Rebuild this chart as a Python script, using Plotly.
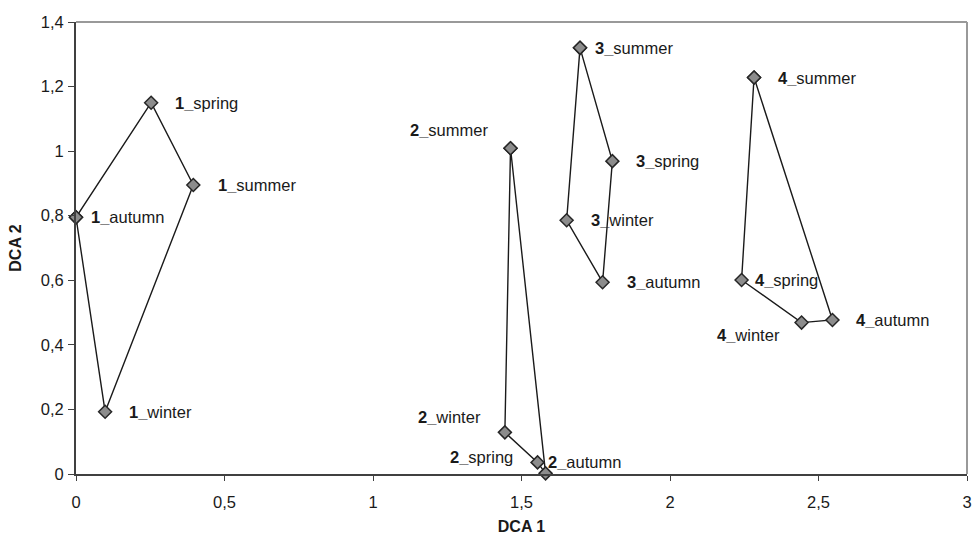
import plotly.graph_objects as go

# Data: DCA scores per site (1-4) and season
groups = ["1", "2", "3", "4"]
g1_seasons = ["autumn", "spring", "summer", "winter"]
g1_x = [0.0, 0.253, 0.395, 0.098]
g1_y = [0.795, 1.15, 0.895, 0.193]

g2_seasons = ["summer", "winter", "spring", "autumn"]
g2_x = [1.463, 1.444, 1.554, 1.581]
g2_y = [1.009, 0.129, 0.036, 0.002]

g3_seasons = ["summer", "spring", "autumn", "winter"]
g3_x = [1.697, 1.806, 1.773, 1.652]
g3_y = [1.32, 0.969, 0.594, 0.786]

g4_seasons = ["summer", "spring", "winter", "autumn"]
g4_x = [2.283, 2.241, 2.443, 2.547]
g4_y = [1.228, 0.601, 0.469, 0.477]

x_ticks = [0, 0.5, 1, 1.5, 2, 2.5, 3]
y_ticks = [0, 0.2, 0.4, 0.6, 0.8, 1.0, 1.2, 1.4]

# label offsets (pixel shifts, anchor)
label_pos = {
    ("1", "autumn"): (13, 0, "left"),
    ("1", "spring"): (22, 0, "left"),
    ("1", "summer"): (23, 0, "left"),
    ("1", "winter"): (22, 0, "left"),
    ("2", "summer"): (-21, 18, "right"),
    ("2", "winter"): (-22, 15, "right"),
    ("2", "spring"): (-23, 5, "right"),
    ("2", "autumn"): (0, 11, "left"),
    ("3", "summer"): (13, 0, "left"),
    ("3", "spring"): (22, 0, "left"),
    ("3", "winter"): (22, 0, "left"),
    ("3", "autumn"): (22, 0, "left"),
    ("4", "summer"): (22, 0, "left"),
    ("4", "spring"): (11, 0, "left"),
    ("4", "winter"): (-20, -12, "right"),
    ("4", "autumn"): (22, 0, "left"),
}

FONT = "Liberation Sans, Arial, sans-serif"
fig = go.Figure()
annotations = []
for g, seasons, xs, ys in [("1", g1_seasons, g1_x, g1_y), ("2", g2_seasons, g2_x, g2_y),
                           ("3", g3_seasons, g3_x, g3_y), ("4", g4_seasons, g4_x, g4_y)]:
    fig.add_trace(go.Scatter(
        x=xs + [xs[0]], y=ys + [ys[0]], mode="lines+markers",
        line=dict(color="#1a1a1a", width=1.4),
        marker=dict(symbol="diamond", size=10, color="#8c8c8c",
                    line=dict(color="#262626", width=1.5)),
        showlegend=False, hoverinfo="skip", cliponaxis=False))
    for s, x, y in zip(seasons, xs, ys):
        dx, dy, anc = label_pos[(g, s)]
        annotations.append(dict(
            x=x, y=y, xref="x", yref="y", text=f"<b>{g}_</b>{s}",
            showarrow=False, xanchor=anc, yanchor="middle",
            xshift=dx, yshift=dy, font=dict(family=FONT, size=16.5, color="#1a1a1a")))

fig.update_layout(
    width=972, height=535,
    margin=dict(l=76, r=5, t=22, b=61),
    paper_bgcolor="white", plot_bgcolor="white",
    separators=", ",
    font=dict(family=FONT, size=16, color="#1a1a1a"),
    annotations=annotations,
    shapes=[
        dict(type="line", xref="paper", yref="paper", x0=0, x1=1, y0=1, y1=1,
             line=dict(color="#999999", width=2)),
        dict(type="line", xref="paper", yref="paper", x0=1, x1=1, y0=0, y1=1,
             line=dict(color="#999999", width=2)),
    ],
    xaxis=dict(range=[0, 3], tickvals=x_ticks, showgrid=False, zeroline=False,
               showline=True, linecolor="#404040", linewidth=2, automargin=False,
               ticks="outside", ticklen=5, tickcolor="#404040",
               tickfont=dict(size=16.5), ticklabelstandoff=7, ticklabeloverflow="allow",
               title=dict(text="<b>DCA 1</b>", font=dict(size=16), standoff=18)),
    yaxis=dict(range=[0, 1.4], tickvals=y_ticks, showgrid=False, zeroline=False,
               showline=True, linecolor="#404040", linewidth=2, automargin=False,
               ticks="outside", ticklen=6, tickcolor="#404040",
               tickfont=dict(size=16.5), ticklabelstandoff=1,
               title=dict(text="<b>DCA 2</b>", font=dict(size=16), standoff=15)),
)
fig.write_html("out.html", config={"displayModeBar": False},
               post_script="document.body.style.margin='0';document.body.style.overflow='hidden';")
